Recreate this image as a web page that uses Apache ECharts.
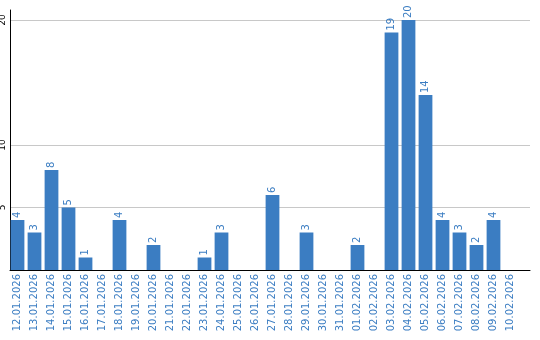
<!DOCTYPE html>
<html>
<head>
<meta charset="utf-8">
<script src="https://cdn.jsdelivr.net/npm/echarts@6/dist/echarts.min.js"></script>
<style>html,body{margin:0;padding:0;background:#fff}#c{width:540px;height:340px}</style>
</head>
<body>
<div id="c"></div>
<script>
const categories = ["12.01.2026","13.01.2026","14.01.2026","15.01.2026","16.01.2026","17.01.2026","18.01.2026","19.01.2026","20.01.2026","21.01.2026","22.01.2026","23.01.2026","24.01.2026","25.01.2026","26.01.2026","27.01.2026","28.01.2026","29.01.2026","30.01.2026","31.01.2026","01.02.2026","02.02.2026","03.02.2026","04.02.2026","05.02.2026","06.02.2026","07.02.2026","08.02.2026","09.02.2026","10.02.2026"];
const values = [4,3,8,5,1,0,4,0,2,0,0,1,3,0,0,6,0,3,0,0,2,0,19,20,14,4,3,2,4,0];
const yTicks = [5,10,20];

const blue = '#3b7dc2';
const yMax = 20.8;
const chart = echarts.init(document.getElementById('c'), null, {renderer:'canvas'});
chart.setOption({
  animation: false,
  grid: [
    {left: 10, right: 10, top: 10, bottom: 70, containLabel: false, outerBoundsMode: 'none'},
    {left: 9, right: 21, top: 10, bottom: 70, containLabel: false, outerBoundsMode: 'none'}
  ],
  xAxis: [{
    gridIndex: 0,
    type: 'value',
    min: 0, max: 1,
    axisLine: {show: true, onZero: false, lineStyle: {color: '#000', width: 1}},
    axisTick: {show: false},
    axisLabel: {show: false},
    splitLine: {show: false}
  }, {
    gridIndex: 1,
    type: 'category',
    data: categories,
    boundaryGap: true,
    axisLine: {show: false},
    axisTick: {show: false},
    axisLabel: {rotate: 90, interval: 0, color: blue, fontSize: 10, fontFamily: 'DejaVu Sans', margin: 4}
  }],
  yAxis: [{
    gridIndex: 0,
    type: 'value',
    min: 0,
    max: yMax,
    axisLine: {show: true, lineStyle: {color: '#000', width: 1}},
    axisTick: {show: false, customValues: yTicks},
    axisLabel: {customValues: yTicks, rotate: 90, color: '#000', fontSize: 9, fontFamily: 'DejaVu Sans', margin: 3},
    splitLine: {show: true, lineStyle: {color: '#c8c8c8', width: 1}}
  }, {
    gridIndex: 1,
    type: 'value',
    min: 0,
    max: yMax,
    show: false
  }],
  series: [{
    type: 'bar',
    xAxisIndex: 1,
    yAxisIndex: 1,
    data: values,
    barWidth: '81%',
    itemStyle: {color: blue},
    z: 3,
    label: {
      show: true,
      position: 'top',
      rotate: 90,
      align: 'left',
      verticalAlign: 'middle',
      distance: 2,
      color: blue,
      fontSize: 10,
      fontFamily: 'DejaVu Sans',
      formatter: p => p.value ? String(p.value) : ''
    }
  }]
});
</script>
</body>
</html>
